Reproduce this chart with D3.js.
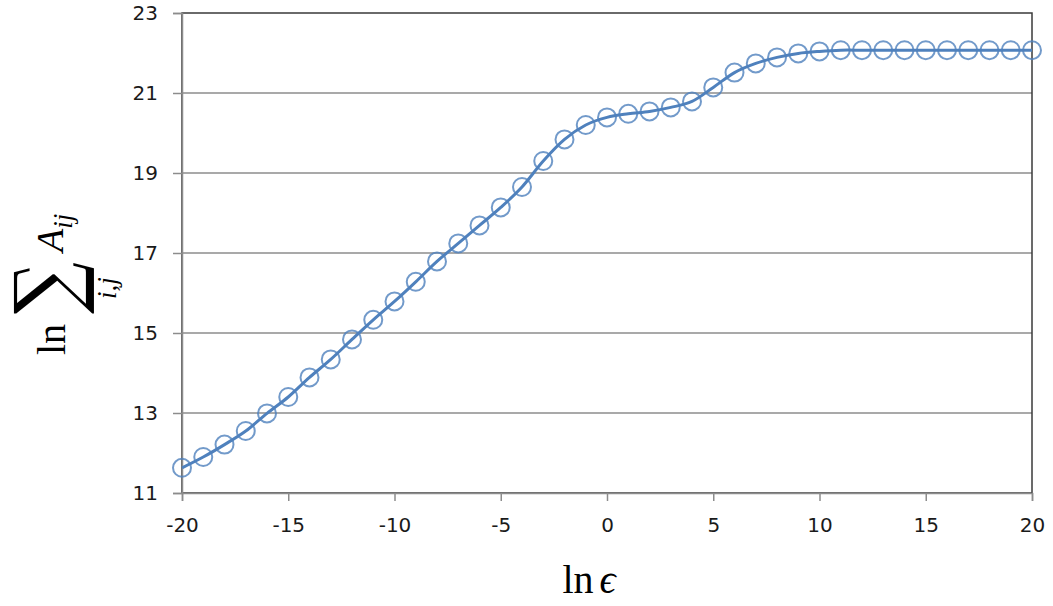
<!DOCTYPE html>
<html>
<head>
<meta charset="utf-8">
<script src="https://cdn.jsdelivr.net/npm/d3@7"></script>
<style>
  body { margin: 0; background: #fff; }
  svg { display: block; }
</style>
</head>
<body>
<svg id="chart" width="1053" height="606"></svg>
<script>
// data
const lnEps = [-20, -19, -18, -17, -16, -15, -14, -13, -12, -11, -10,
               -9, -8, -7, -6, -5, -4, -3, -2, -1, 0,
               1, 2, 3, 4, 5, 6, 7, 8, 9, 10,
               11, 12, 13, 14, 15, 16, 17, 18, 19, 20];
const lnSum = [11.63, 11.90, 12.21, 12.55, 12.99, 13.40, 13.89, 14.34, 14.84, 15.33, 15.79,
               16.28, 16.79, 17.24, 17.69, 18.14, 18.65, 19.30, 19.84, 20.20, 20.39,
               20.48, 20.54, 20.64, 20.79, 21.14, 21.51, 21.74, 21.89, 21.99, 22.04,
               22.07, 22.07, 22.07, 22.07, 22.07, 22.07, 22.07, 22.07, 22.07, 22.07];
const xTicks = [-20, -15, -10, -5, 0, 5, 10, 15, 20];
const yTicks = [11, 13, 15, 17, 19, 21, 23];

const svg = d3.select('#chart');
const plotLeft = 182, plotRight = 1032, plotTop = 13, plotBottom = 493;
const blue = '#4f81bd';

const x = d3.scaleLinear().domain([-20, 20]).range([plotLeft, plotRight]);
const y = d3.scaleLinear().domain([11, 23]).range([plotBottom, plotTop]);

// horizontal gridlines
svg.append('g')
    .selectAll('line')
    .data(yTicks.slice(1, -1))
    .enter()
    .append('line')
    .attr('x1', plotLeft).attr('x2', plotRight)
    .attr('y1', d => y(d)).attr('y2', d => y(d))
    .attr('stroke', '#8c8c8c')
    .attr('stroke-width', 1.5);

// plot area border (top and right look dark)
svg.append('rect')
    .attr('x', plotLeft).attr('y', plotTop)
    .attr('width', plotRight - plotLeft).attr('height', plotBottom - plotTop)
    .attr('fill', 'none')
    .attr('stroke', '#3a3a3a')
    .attr('stroke-width', 1.5);

// y axis
const yAxis = svg.append('g')
    .attr('transform', `translate(${plotLeft},0)`)
    .call(d3.axisLeft(y).tickValues(yTicks).tickSize(9).tickPadding(15).tickFormat(d3.format('d')));

// x axis
const xAxis = svg.append('g')
    .attr('transform', `translate(0,${plotBottom})`)
    .call(d3.axisBottom(x).tickValues(xTicks).tickSize(8).tickPadding(17).tickFormat(d3.format('d')));

[yAxis, xAxis].forEach(ax => {
    ax.select('.domain').attr('stroke', '#8c8c8c').attr('stroke-width', 1.5);
    ax.selectAll('.tick line').attr('stroke', '#8c8c8c').attr('stroke-width', 1.5);
    ax.selectAll('.tick text')
        .attr('fill', '#1a1a1a')
        .style('font-family', '"DejaVu Sans", sans-serif')
        .style('font-size', '20px');
});
xAxis.selectAll('.tick text').text(d => d < 0 ? '-' + Math.abs(d) : d);

// smoothed line
const line = d3.line()
    .x((d, i) => x(lnEps[i]))
    .y(d => y(d))
    .curve(d3.curveCatmullRom.alpha(0));

svg.append('path')
    .datum(lnSum)
    .attr('d', line)
    .attr('fill', 'none')
    .attr('stroke', blue)
    .attr('stroke-width', 3);

// open circle markers
svg.append('g')
    .selectAll('circle')
    .data(lnSum)
    .enter()
    .append('circle')
    .attr('cx', (d, i) => x(lnEps[i]))
    .attr('cy', d => y(d))
    .attr('r', 9)
    .attr('fill', 'none')
    .attr('stroke', blue)
    .attr('stroke-opacity', 0.8)
    .attr('stroke-width', 2);

// x label: ln ϵ
const xLab = svg.append('text')
    .attr('x', 589)
    .attr('y', 593)
    .attr('text-anchor', 'middle')
    .style('font-family', '"Liberation Serif", serif')
    .style('font-size', '40px')
    .attr('fill', '#000');
xLab.append('tspan').text('ln');
xLab.append('tspan').attr('dx', 6).style('font-style', 'italic').text('ϵ');

// y label: ln Σ_{i,j} A_{ij}, rotated
const yLab = svg.append('g')
    .attr('transform', 'rotate(-90)')
    .style('font-family', '"Liberation Serif", serif')
    .attr('fill', '#000');

yLab.append('text')
    .attr('x', -355).attr('y', 65)
    .style('font-size', '40px')
    .text('ln');

// ink bounds of a glyph, measured on a scratch canvas (origin = text start on baseline)
function inkBox(ch, font) {
    const c = document.createElement('canvas');
    c.width = 300; c.height = 300;
    const ctx = c.getContext('2d');
    ctx.font = font;
    ctx.textBaseline = 'alphabetic';
    ctx.fillStyle = '#000';
    ctx.fillText(ch, 100, 200);
    const px = ctx.getImageData(0, 0, 300, 300).data;
    let x0 = 300, x1 = -1, y0 = 300, y1 = -1;
    for (let j = 0; j < 300; j++) {
        for (let i = 0; i < 300; i++) {
            if (px[(j * 300 + i) * 4 + 3] > 100) {
                if (i < x0) x0 = i;
                if (i > x1) x1 = i;
                if (j < y0) y0 = j;
                if (j > y1) y1 = j;
            }
        }
    }
    return { x0: x0 - 100, x1: x1 + 1 - 100, y0: y0 - 200, y1: y1 + 1 - 200 };
}

// big summation sign, stretched to the size of the display operator
const sigma = yLab.append('text')
    .style('font-family', '"DejaVu Serif", serif')
    .style('font-size', '80px')
    .text('∑');
const ink = inkBox('∑', '80px "DejaVu Serif"');
// target box in rotated coords: along screen y 263..313, along screen x 13..93
const sx = 50 / (ink.x1 - ink.x0), sy = 80 / (ink.y1 - ink.y0);
sigma.attr('transform', `translate(-313,13) scale(${sx},${sy}) translate(${-ink.x0},${-ink.y0})`);

yLab.append('text')
    .attr('x', -299).attr('y', 116)
    .style('font-size', '27px')
    .style('font-style', 'italic')
    .text('i,j');

const aLab = yLab.append('text')
    .attr('x', -252).attr('y', 63)
    .style('font-size', '38px')
    .style('font-style', 'italic');
aLab.append('tspan').text('A');
aLab.append('tspan').attr('dy', 9).style('font-size', '27px').text('ij');
</script>
</body>
</html>
